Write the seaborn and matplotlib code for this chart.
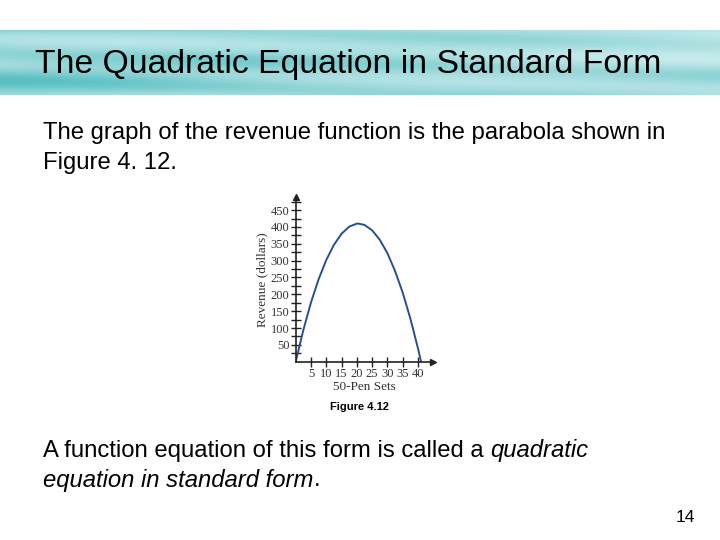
import numpy as np
import pandas as pd
import matplotlib
matplotlib.use('Agg')
import matplotlib.pyplot as plt
import matplotlib.colors as mcolors
import seaborn as sns

# values (revenue vs. number of 50-pen sets)
pen_sets = [0, 2.5, 5, 7.5, 10, 12.5, 15, 17.5, 20, 20.5, 22.5, 25, 27.5, 30, 32.5, 35, 37.5, 40, 41]
revenue = [0, 94, 176, 245, 302, 347, 380, 401, 410, 410, 406, 390, 362, 322, 269, 205, 128, 39, 0]
x_ticks = [5, 10, 15, 20, 25, 30, 35, 40]
y_ticks = [50, 100, 150, 200, 250, 300, 350, 400, 450]

title = 'The Quadratic Equation in Standard Form'
body_lines = ['The graph of the revenue function is the parabola shown in',
              'Figure 4. 12.']
caption = 'Figure 4.12'
page_no = '14'

sns.set_style('white')
plt.rcParams['font.family'] = ['Liberation Sans', 'DejaVu Sans']
plt.rcParams['text.color'] = 'black'

fig = plt.figure(figsize=(7.2, 5.4), dpi=100)
W, H = 720, 540

def fx(px):
    return px / W

def fy(py):
    return 1 - py / H

# title band with soft teal streaks
band = fig.add_axes([0, fy(95), 1, (95 - 30) / H])
band.set_axis_off()
xx = np.linspace(0, 1, 400)
yy = np.linspace(0, 1, 60)
X, Y = np.meshgrid(xx, yy)
shade = 0.55 + 0.25 * np.sin(6 * Y + 3 * X) * np.cos(2.5 * X) + 0.2 * np.sin(14 * Y - 5 * X)
shade = shade + 0.35 * X
cmap = mcolors.LinearSegmentedColormap.from_list('band', ['#56bfc2', '#9fdadc', '#cdeeef'])
band.imshow(shade, cmap=cmap, aspect='auto', extent=[0, 1, 0, 1], vmin=0.1, vmax=1.3)
band.set_xlim(0, 1)
band.set_ylim(0, 1)

fig.text(fx(35), fy(64), title, fontsize=24.3, va='center', ha='left', color='black')

fig.text(fx(43), fy(133), body_lines[0], fontsize=17.2, va='center', ha='left')
fig.text(fx(43), fy(163), body_lines[1], fontsize=17.2, va='center', ha='left')

# the chart
ax = fig.add_axes([fx(295.7), fy(361.7), 137 / W, 164.7 / H])
df = pd.DataFrame({'sets': pen_sets, 'revenue': revenue})
sns.lineplot(data=df, x='sets', y='revenue', ax=ax, color='#2b4f8e', lw=1.4)
ax.set_xlim(0, 44.8)
ax.set_ylim(0, 489)
ax.set_xticks(x_ticks)
ax.set_yticks(y_ticks)
ax.set_yticks(np.arange(25, 476, 50), minor=True)
serif = ['Liberation Serif', 'DejaVu Serif']
ax.set_xticklabels([str(t) for t in x_ticks], family=serif, fontsize=9, color='#333333')
ax.set_yticklabels([str(t) for t in y_ticks], family=serif, fontsize=9, color='#333333')
ax.tick_params(axis='both', which='both', direction='inout', length=7, width=1,
               color='#222222', pad=1, bottom=True, left=True)
for s in ['top', 'right']:
    ax.spines[s].set_visible(False)
for s in ['left', 'bottom']:
    ax.spines[s].set_color('#222222')
    ax.spines[s].set_linewidth(1.2)
ax.plot(1, 0, '>', transform=ax.transAxes, color='#222222', ms=5, clip_on=False)
ax.plot(0, 1, '^', transform=ax.transAxes, color='#222222', ms=5, clip_on=False)
ax.set_xlabel('50-Pen Sets', family=serif, fontsize=9.5, color='#333333', labelpad=1)
ax.set_ylabel('Revenue (dollars)', family=serif, fontsize=9.5, color='#333333', labelpad=2)
ax.set_facecolor('none')

fig.text(fx(360), fy(407), caption, fontsize=8, fontweight='bold', ha='center', va='center')

# closing sentence with italic parts
renderer = fig.canvas.get_renderer()
def run(x0, y0, parts):
    x = fx(x0)
    for txt, style in parts:
        t = fig.text(x, fy(y0), txt, fontsize=17.2, style=style, va='center', ha='left')
        bb = t.get_window_extent(renderer=renderer)
        x = bb.x1 / (W)

run(43, 451, [('A function equation of this form is called a ', 'normal'), ('quadratic', 'italic')])
run(43, 480, [('equation in standard form', 'italic'), ('.', 'normal')])

fig.text(fx(695), fy(517), page_no, fontsize=12.5, ha='right', va='center')

fig.savefig('out.png', dpi=100)
